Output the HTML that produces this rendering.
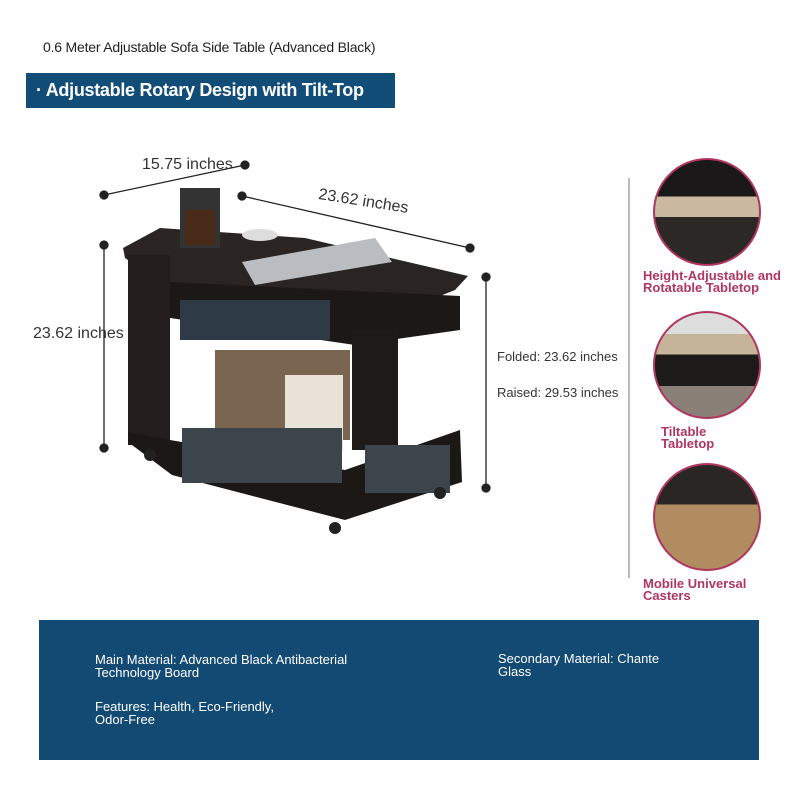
<!DOCTYPE html><html><head><style>
body{margin:0;width:800px;height:800px;background:#fff;position:relative;overflow:hidden;font-family:"Liberation Sans",sans-serif}
.a{position:absolute;white-space:nowrap}
.r{color:#b0365e;font-size:13px;line-height:12px;font-weight:bold}
.w{color:#fff;font-size:13px;line-height:13px}
.c{position:absolute;width:104px;height:104px;border-radius:50%;border:2px solid #b0365e;overflow:hidden;left:653px}
</style></head><body>
<div class="a" style="left:43px;top:39px;font-size:14px;color:#222;letter-spacing:-0.2px">0.6 Meter Adjustable Sofa Side Table (Advanced Black)</div>
<div class="a" style="left:26px;top:73px;width:369px;height:35px;background:#124d78;color:#fff;font-size:18px;line-height:35px;padding-left:10px;box-sizing:border-box;font-weight:bold;letter-spacing:-0.3px">· Adjustable Rotary Design with Tilt-Top</div>
<svg class="a" style="left:0;top:0" width="640" height="600">
<g stroke="#222" stroke-width="1.3" fill="#222">
<line x1="104" y1="195" x2="245" y2="165"/><circle cx="104" cy="195" r="4"/><circle cx="245" cy="165" r="4"/>
<line x1="242" y1="196" x2="470" y2="248"/><circle cx="242" cy="196" r="4"/><circle cx="470" cy="248" r="4"/>
<line x1="104" y1="245" x2="104" y2="448"/><circle cx="104" cy="245" r="4"/><circle cx="104" cy="448" r="4"/>
<line x1="486" y1="277" x2="486" y2="488"/><circle cx="486" cy="277" r="4"/><circle cx="486" cy="488" r="4"/>
</g>
<line x1="629" y1="178" x2="629" y2="578" stroke="#bbb" stroke-width="2"/>
<polygon points="123,248 160,228 305,238 468,276 455,290 355,330 170,290 125,258" fill="#2a2422"/>
<rect x="128" y="255" width="42" height="190" fill="#231e1c"/>
<polygon points="170,282 460,296 460,330 355,345 170,318" fill="#1c1816"/>
<rect x="180" y="300" width="150" height="40" fill="#2e3a46"/>
<rect x="352" y="330" width="46" height="120" fill="#1e1a18"/>
<rect x="215" y="350" width="135" height="90" fill="#7a6650"/>
<rect x="285" y="375" width="58" height="75" fill="#e8e2d8"/>
<polygon points="128,432 170,440 345,470 460,430 462,482 345,520 172,475 128,442" fill="#1c1816"/>
<rect x="182" y="428" width="160" height="55" fill="#3c444c"/>
<rect x="365" y="445" width="85" height="48" fill="#3c444c"/>
<polygon points="242,262 375,238 392,262 255,285" fill="#b9bcc0"/>
<rect x="180" y="188" width="40" height="60" fill="#333"/><rect x="185" y="210" width="30" height="35" fill="#4a2a18"/>
<ellipse cx="260" cy="235" rx="18" ry="6" fill="#ddd"/>
<circle cx="150" cy="455" r="6" fill="#222"/><circle cx="335" cy="528" r="6" fill="#222"/><circle cx="440" cy="493" r="6" fill="#222"/>
</svg>
<div class="a" style="left:142px;top:156px;font-size:16px;color:#333">15.75 inches</div>
<div class="a" style="left:318px;top:193px;font-size:16px;color:#333;transform:rotate(9deg)">23.62 inches</div>
<div class="a" style="left:33px;top:325px;font-size:16px;color:#333">23.62 inches</div>
<div class="a" style="left:497px;top:349px;font-size:13px;color:#333">Folded: 23.62 inches</div>
<div class="a" style="left:497px;top:385px;font-size:13px;color:#333">Raised: 29.53 inches</div>
<div class="c" style="top:158px;background:linear-gradient(#1a1818 0 35%,#c9b9a0 35% 55%,#2b2826 55%)"></div>
<div class="c" style="top:311px;background:linear-gradient(#ddd 0 20%,#c6b49a 20% 40%,#1d1b1a 40% 70%,#8a8078 70%)"></div>
<div class="c" style="top:463px;background:linear-gradient(#2a2624 0 38%,#b08c60 38%)"></div>
<div class="a r" style="left:643px;top:270px">Height-Adjustable and<br>Rotatable Tabletop</div>
<div class="a r" style="left:661px;top:426px">Tiltable<br>Tabletop</div>
<div class="a r" style="left:643px;top:578px">Mobile Universal<br>Casters</div>
<div class="a" style="left:39px;top:620px;width:720px;height:140px;background:#134a73"></div>
<div class="a w" style="left:95px;top:653px">Main Material: Advanced Black Antibacterial<br>Technology Board</div>
<div class="a w" style="left:498px;top:652px">Secondary Material: Chante<br>Glass</div>
<div class="a w" style="left:95px;top:700px">Features: Health, Eco-Friendly,<br>Odor-Free</div>
</body></html>
